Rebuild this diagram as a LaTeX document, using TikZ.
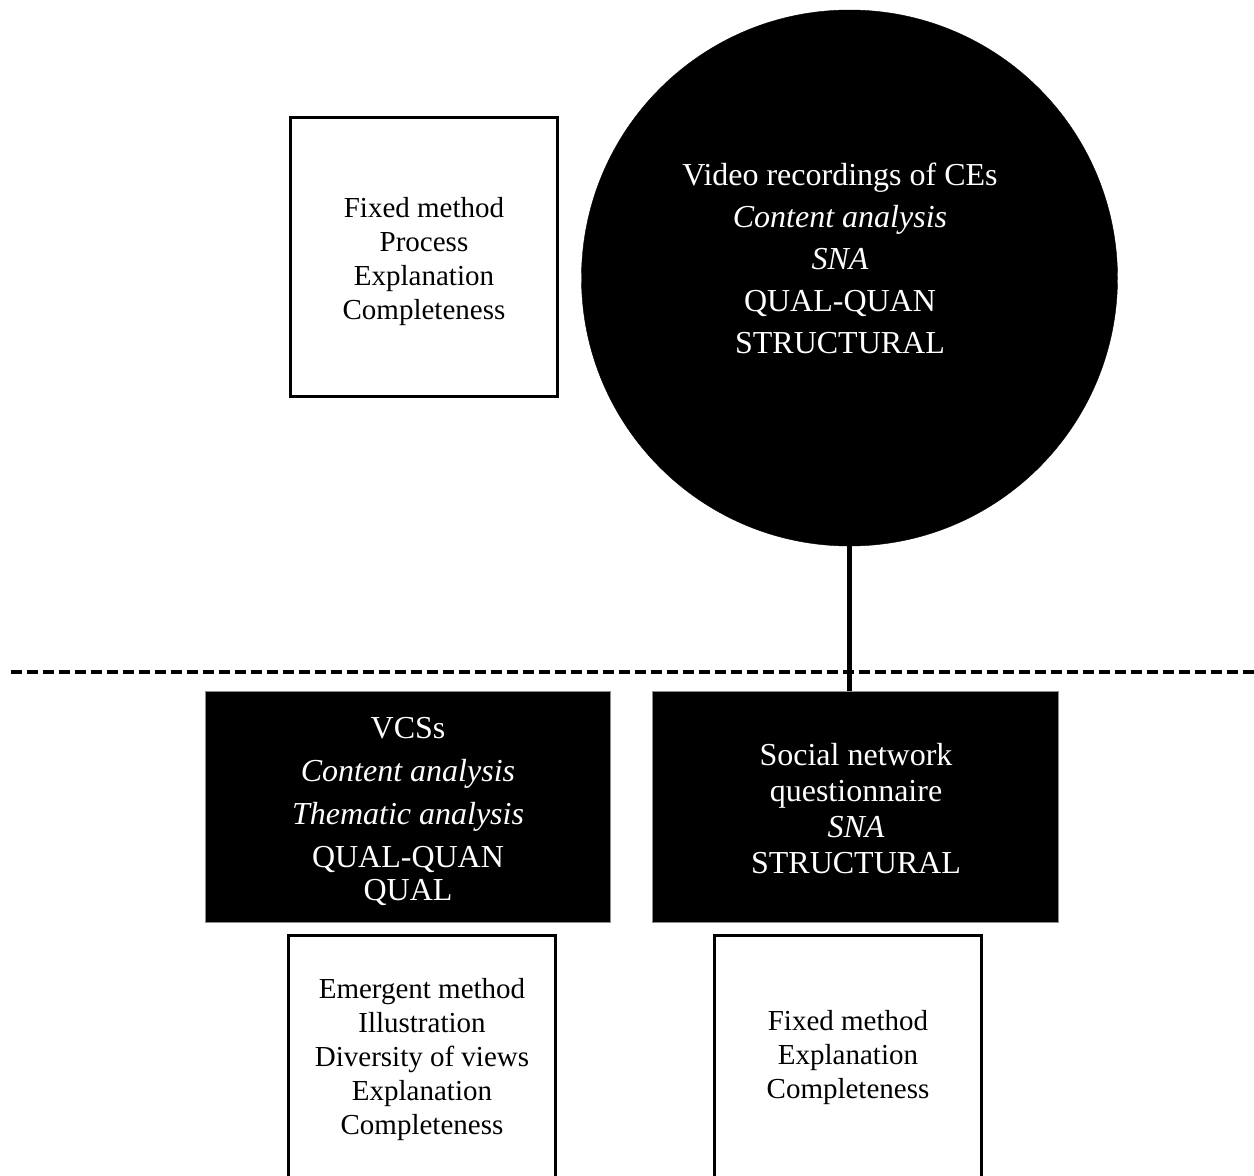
\documentclass[tikz,border=0pt]{standalone}
\usepackage{fontspec}
\setmainfont{Liberation Serif}
\begin{document}
\begin{tikzpicture}[x=1pt,y=-1pt,
  whitebox/.style={draw=black, line width=3pt, fill=white, inner sep=0pt},
  blackbox/.style={draw=black!45, line width=1pt, fill=black, inner sep=0pt},
  plaintext/.style={align=center, inner sep=0pt, font=\fontsize{29}{34}\selectfont},
  invtext/.style={align=center, inner sep=0pt, text=white},
  divider/.style={line width=4pt, dash pattern=on 11pt off 5pt},
  link/.style={line width=4.5pt},
]
\useasboundingbox (0,0) rectangle (1254,1176);
\clip (0,0) rectangle (1254,1176);

% dividing line between the two levels
\coordinate (divL) at (11,672);
\coordinate (divR) at (1254,672);
\draw[divider] (divL) -- (divR);

% upper level
\node[whitebox, minimum width=267pt, minimum height=279pt] (fixedA) at (424,257) {};
\node[plaintext] (fixedAtxt) at (424,262)
  {Fixed method\\Process\\Explanation\\Completeness};

\node[circle, fill=black, draw=black, minimum size=536pt, inner sep=0pt] (video) at (849.5,278) {};
\node[invtext, font=\fontsize{32}{42}\selectfont] (videotxt) at (840,258)
  {Video recordings of CEs\\\textit{Content analysis}\\\textit{SNA}\\QUAL-QUAN\\STRUCTURAL};

% lower level
\node[blackbox, minimum width=405pt, minimum height=231pt] (vcs) at (407.5,806.5) {};
\node[invtext, font=\fontsize{32}{43}\selectfont] (vcstxt) at (408,811)
  {VCSs\\\textit{Content analysis}\\\textit{Thematic analysis}\\QUAL-QUAN\\[-10pt]QUAL};

\node[blackbox, minimum width=406pt, minimum height=231pt] (snq) at (855,806.5) {};
\node[invtext, font=\fontsize{32}{36}\selectfont] (snqtxt) at (856,809)
  {Social network\\questionnaire\\\textit{SNA}\\STRUCTURAL};

\node[whitebox, minimum width=267pt, minimum height=300pt] (emergent) at (422,1085.5) {};
\node[plaintext] (emergenttxt) at (422,1060)
  {Emergent method\\Illustration\\Diversity of views\\Explanation\\Completeness};

\node[whitebox, minimum width=267pt, minimum height=300pt] (fixedB) at (848,1085.5) {};
\node[plaintext] (fixedBtxt) at (848,1058)
  {Fixed method\\Explanation\\Completeness};

% connector from the recordings to the questionnaire
\draw[link] (video.south) -- (video.south |- snq.north);
\end{tikzpicture}
\end{document}
